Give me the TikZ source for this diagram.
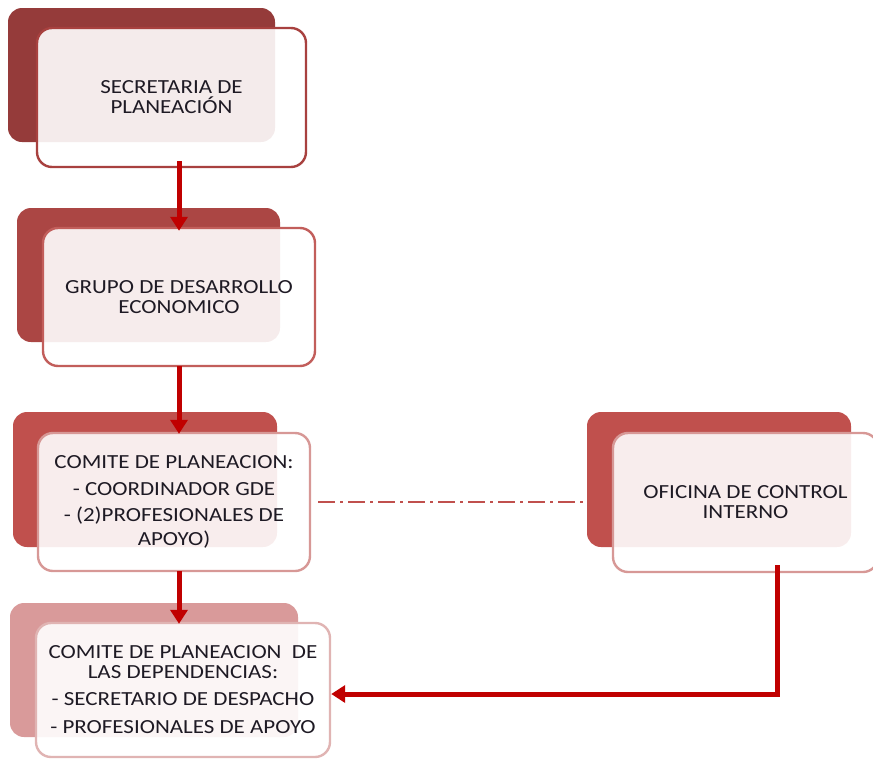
\documentclass[tikz,border=0pt]{standalone}
\usepackage{fontspec}
\setmainfont{Carlito}[FakeStretch=1.15]
\usetikzlibrary{arrows.meta}
\tikzset{>={Triangle[length=14pt,width=17pt]}}

\definecolor{fondoA}{HTML}{953B3A}
\definecolor{fondoB}{HTML}{AB4644}
\definecolor{fondoC}{HTML}{C0504D}
\definecolor{fondoD}{HTML}{D99A9A}
\definecolor{bordeA}{HTML}{A8413F}
\definecolor{bordeB}{HTML}{C25E5B}
\definecolor{bordeC}{HTML}{D79896}
\definecolor{bordeD}{HTML}{E0B4B3}
\definecolor{rojoflecha}{HTML}{C00000}
\definecolor{texto}{HTML}{1E1A24}

\tikzset{
  fondo/.style={fill=#1,rounded corners=14pt,inner sep=0pt},
  caja/.style={draw=#1,line width=2.4pt,fill=white,fill opacity=0.9,text opacity=1,
    rounded corners=15pt,align=center,text=texto,inner sep=0pt,
    font=\fontsize{20}{20}\selectfont},
  flecha/.style={->,draw=rojoflecha,line width=5pt},
  guion/.style={draw=fondoC,line width=2pt,dash pattern=on 17pt off 5pt on 3pt off 5pt}
}

\begin{document}
\begin{tikzpicture}[x=1pt,y=-1pt]
\useasboundingbox (0,0) rectangle (873,758);
\node[fondo=fondoA,minimum width=267pt,minimum height=134pt] (SPf) at (141.5,75) {};
\node[fondo=fondoB,minimum width=263pt,minimum height=134pt] (GDEf) at (148.5,275) {};
\node[fondo=fondoC,minimum width=264pt,minimum height=135pt] (CPf) at (145,479.5) {};
\node[fondo=fondoD,minimum width=288pt,minimum height=134pt] (CPDf) at (154,670) {};
\node[fondo=fondoC,minimum width=264pt,minimum height=135pt] (OCIf) at (719,479.5) {};

\node[caja=bordeA,minimum width=269pt,minimum height=139pt] (SP) at (171.5,97.5)
  {SECRETARIA DE\\PLANEACIÓN};
\node[caja=bordeB,minimum width=272pt,minimum height=138pt] (GDE) at (179,297)
  {GRUPO DE DESARROLLO\\ECONOMICO};
\node[caja=bordeC,minimum width=272pt,minimum height=138pt] (CP) at (174,502)
  {COMITE DE PLANEACION:\\[7pt] - COORDINADOR GDE\\[6pt] - (2)PROFESIONALES DE\\[4pt] APOYO)};
\node[caja=bordeD,minimum width=294pt,minimum height=134pt] (CPD) at (183,690)
  {COMITE DE PLANEACION\ \ DE\\LAS DEPENDENCIAS:\\[7pt] - SECRETARIO DE DESPACHO\\[8pt] - PROFESIONALES DE APOYO};
\node[caja=bordeC,minimum width=265pt,minimum height=139pt] (OCI) at (745.5,502.5)
  {OFICINA DE CONTROL\\INTERNO};

\draw[guion] ([xshift=7pt]CP.east) -- ([xshift=-4pt]CP.east -| OCIf.west);
\draw[flecha] ([yshift=7pt]SP.south -| GDE.north) -- ([yshift=-4pt]GDE.north);
\draw[flecha] ([yshift=1pt]GDE.south) -- ([yshift=-2pt]GDE.south |- CP.north);
\draw[flecha] ([yshift=1pt]CP.south -| GDE.south) -- ([yshift=-2pt]CPD.north -| GDE.south);
\draw[flecha] ([xshift=32pt,yshift=8pt]OCI.south) |- ([yshift=-4pt]CPD.east);
\end{tikzpicture}
\end{document}
